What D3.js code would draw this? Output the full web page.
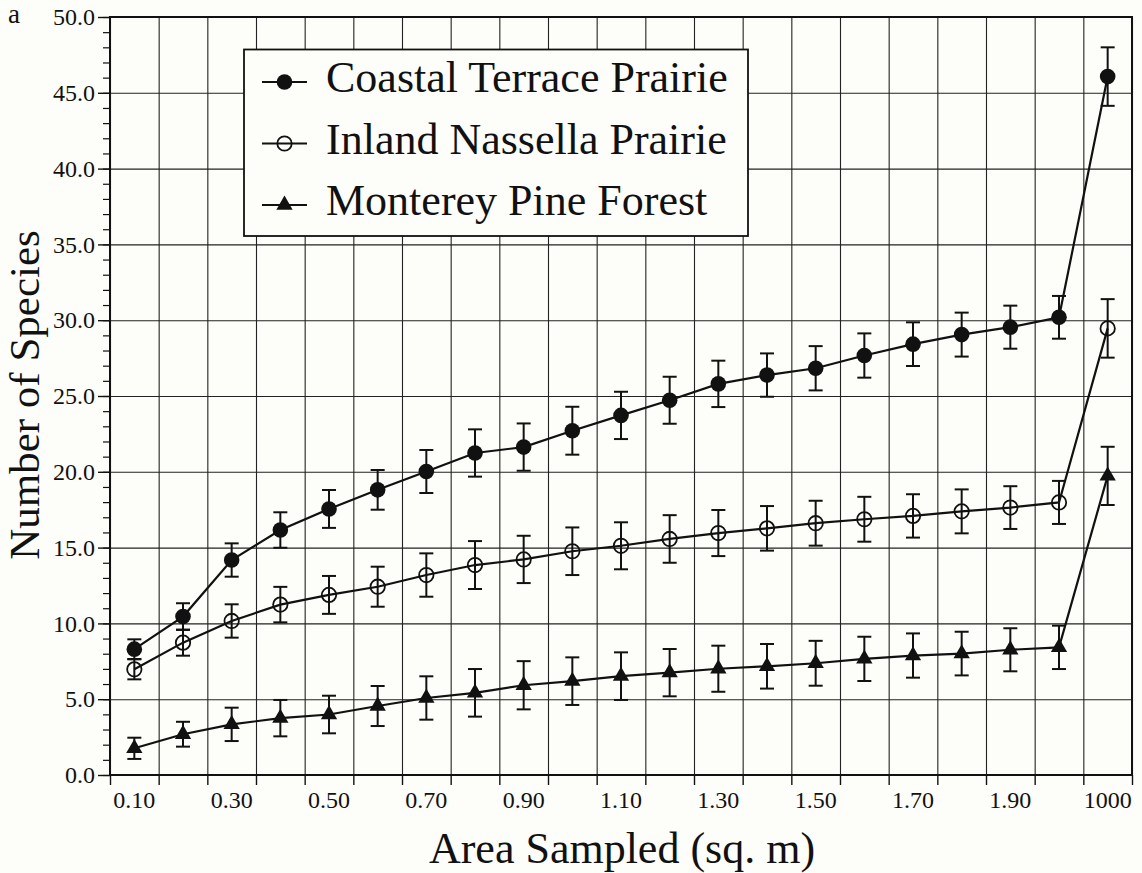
<!DOCTYPE html>
<html>
<head>
<meta charset="utf-8">
<script src="https://cdn.jsdelivr.net/npm/d3@7"></script>
<style>
  html, body { margin: 0; padding: 0; background: #fdfdf9; }
  svg { display: block; }
  text { font-family: "Liberation Serif", "Times New Roman", serif; fill: #111; }
</style>
</head>
<body>
<svg id="chart" width="1142" height="873"></svg>
<script>
// ---- DATA ----
const categories = ["0.10","0.20","0.30","0.40","0.50","0.60","0.70","0.80","0.90","1.00",
                    "1.10","1.20","1.30","1.40","1.50","1.60","1.70","1.80","1.90","2.00","1000"];
const xTickLabels = ["0.10","0.30","0.50","0.70","0.90","1.10","1.30","1.50","1.70","1.90","1000"];
const yTickValues = [0, 5, 10, 15, 20, 25, 30, 35, 40, 45, 50];

const coastalMean = [8.3, 10.45, 14.18, 16.16, 17.55, 18.81, 20.02, 21.24, 21.63, 22.71,
                     23.72, 24.72, 25.8, 26.38, 26.83, 27.67, 28.42, 29.05, 29.54, 30.19, 46.07];
const coastalErr  = [0.65, 0.88, 1.1, 1.17, 1.25, 1.31, 1.42, 1.56, 1.56, 1.58,
                     1.56, 1.55, 1.53, 1.43, 1.46, 1.46, 1.44, 1.45, 1.42, 1.41, 1.93];
const inlandMean  = [6.97, 8.73, 10.16, 11.24, 11.88, 12.42, 13.19, 13.85, 14.22, 14.76,
                     15.12, 15.57, 15.96, 16.27, 16.61, 16.87, 17.09, 17.39, 17.64, 17.98, 29.46];
const inlandErr   = [0.66, 0.86, 1.1, 1.17, 1.25, 1.32, 1.43, 1.58, 1.56, 1.57,
                     1.55, 1.57, 1.52, 1.47, 1.48, 1.48, 1.43, 1.45, 1.41, 1.42, 1.93];
const pineMean    = [1.76, 2.69, 3.34, 3.75, 3.99, 4.55, 5.08, 5.42, 5.92, 6.19,
                     6.52, 6.75, 7.01, 7.17, 7.37, 7.66, 7.88, 8.01, 8.26, 8.42, 19.73];
const pineErr     = [0.70, 0.82, 1.1, 1.2, 1.24, 1.32, 1.43, 1.57, 1.59, 1.57,
                     1.57, 1.56, 1.52, 1.47, 1.48, 1.46, 1.46, 1.44, 1.42, 1.43, 1.92];
const seriesNames = ["Coastal Terrace Prairie", "Inland Nassella Prairie", "Monterey Pine Forest"];

// ---- LAYOUT ----
const svg = d3.select("#chart");
const L = 110, R = 1132, T = 17, B = 775;
const BG = "#fdfdf9";

const x = d3.scaleBand().domain(categories).range([L, R]).padding(0);
const xEdge = d3.scaleLinear().domain([0, categories.length]).range([L, R]);
const y = d3.scaleLinear().domain([0, 50]).range([B, T]);

// gridlines
const gGrid = svg.append("g");
gGrid.append("g").attr("transform", `translate(${L},0)`)
  .call(d3.axisLeft(y).tickValues(yTickValues).tickSize(-(R - L)).tickFormat(""))
  .call(g => g.select(".domain").remove())
  .selectAll("line").attr("stroke", "#222").attr("stroke-width", 1.1);
gGrid.append("g").attr("transform", `translate(0,${T})`)
  .call(d3.axisBottom(xEdge).tickValues(d3.range(categories.length + 1)).tickSize(B - T).tickFormat(""))
  .call(g => g.select(".domain").remove())
  .selectAll("line").attr("stroke", "#222").attr("stroke-width", 1.1);

// frame
svg.append("rect").attr("x", L).attr("y", T).attr("width", R - L).attr("height", B - T)
  .attr("fill", "none").attr("stroke", "#111").attr("stroke-width", 2);

// y axis minor ticks
svg.append("g").attr("transform", `translate(${L},0)`)
  .call(d3.axisLeft(y).tickValues(d3.range(0, 51, 1)).tickSize(7).tickFormat(""))
  .call(g => g.select(".domain").remove())
  .selectAll("line").attr("stroke", "#111").attr("stroke-width", 1.2);
// y axis major ticks + labels
svg.append("g").attr("transform", `translate(${L},0)`)
  .call(d3.axisLeft(y).tickValues(yTickValues).tickSize(12).tickPadding(3).tickFormat(d3.format(".1f")))
  .call(g => g.select(".domain").remove())
  .call(g => g.selectAll("line").attr("stroke", "#111").attr("stroke-width", 1.4))
  .call(g => g.selectAll("text").attr("font-size", 24).attr("font-family", "Liberation Serif").attr("fill", "#111"));

// x axis boundary ticks
svg.append("g").attr("transform", `translate(0,${B})`)
  .call(d3.axisBottom(xEdge).tickValues(d3.range(categories.length + 1)).tickSize(10).tickFormat(""))
  .call(g => g.select(".domain").remove())
  .selectAll("line").attr("stroke", "#111").attr("stroke-width", 1.4);
// x axis labels (centered in bands)
svg.append("g").attr("transform", `translate(0,${B})`)
  .call(d3.axisBottom(x).tickValues(xTickLabels).tickSize(0).tickPadding(16))
  .call(g => g.select(".domain").remove())
  .call(g => g.selectAll("text").attr("font-size", 24).attr("font-family", "Liberation Serif").attr("fill", "#111"));

// axis titles
svg.append("text").attr("x", (L + R) / 2 + 1).attr("y", 863).attr("text-anchor", "middle")
  .attr("font-size", 44).text("Area Sampled (sq. m)");
svg.append("text").attr("transform", "translate(39,395) rotate(-90)").attr("text-anchor", "middle")
  .attr("font-size", 43).text("Number of Species");
svg.append("text").attr("x", 8).attr("y", 23).attr("font-size", 27).text("a");

// ---- SERIES ----
const series = [
  { name: seriesNames[0], mean: coastalMean, err: coastalErr, marker: "filled" },
  { name: seriesNames[1], mean: inlandMean, err: inlandErr, marker: "open" },
  { name: seriesNames[2], mean: pineMean, err: pineErr, marker: "tri" }
];
const cx = c => x(c) + x.bandwidth() / 2;
const line = d3.line().x(d => cx(d.c)).y(d => y(d.v));
const triSym = d3.symbol().type(d3.symbolTriangle).size(115);

function drawMarker(g, type, px, py) {
  if (type === "filled") {
    g.append("circle").attr("cx", px).attr("cy", py).attr("r", 7.8).attr("fill", "#111");
  } else if (type === "open") {
    g.append("circle").attr("cx", px).attr("cy", py).attr("r", 7.2)
      .attr("fill", "none").attr("stroke", "#111").attr("stroke-width", 1.8);
  } else {
    g.append("path").attr("d", triSym()).attr("transform", `translate(${px},${py})`).attr("fill", "#111");
  }
}

series.forEach(s => {
  const pts = categories.map((c, i) => ({ c, v: s.mean[i], e: s.err[i] }));
  const g = svg.append("g");
  // error bars
  const eb = g.append("g").attr("stroke", "#111").attr("stroke-width", 2);
  pts.forEach(p => {
    const px = cx(p.c);
    eb.append("line").attr("x1", px).attr("x2", px).attr("y1", y(p.v + p.e)).attr("y2", y(p.v - p.e));
    eb.append("line").attr("x1", px - 7).attr("x2", px + 7).attr("y1", y(p.v + p.e)).attr("y2", y(p.v + p.e));
    eb.append("line").attr("x1", px - 7).attr("x2", px + 7).attr("y1", y(p.v - p.e)).attr("y2", y(p.v - p.e));
  });
  // line
  g.append("path").datum(pts).attr("d", line).attr("fill", "none")
    .attr("stroke", "#111").attr("stroke-width", 2.2);
  // markers
  pts.forEach(p => drawMarker(g, s.marker, cx(p.c), y(p.v)));
});

// ---- LEGEND ----
const lg = svg.append("g");
lg.append("rect").attr("x", 244).attr("y", 49.5).attr("width", 504).attr("height", 186.5)
  .attr("fill", BG).attr("stroke", "#111").attr("stroke-width", 1.8);
series.forEach((s, i) => {
  const yy = 82 + i * 61.5;
  lg.append("line").attr("x1", 262).attr("x2", 307).attr("y1", yy).attr("y2", yy)
    .attr("stroke", "#111").attr("stroke-width", 2);
  drawMarker(lg, s.marker, 284.5, yy);
  lg.append("text").attr("x", 326).attr("y", yy + 10).attr("font-size", 44).text(s.name);
});
</script>
</body>
</html>
